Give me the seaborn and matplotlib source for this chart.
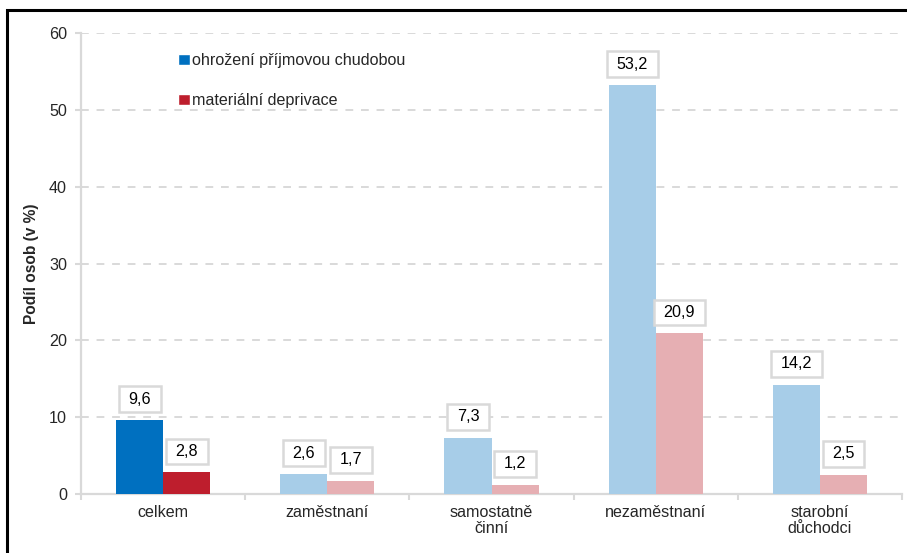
import matplotlib
matplotlib.use("Agg")
import matplotlib.pyplot as plt
import numpy as np
import pandas as pd
import seaborn as sns
from matplotlib.patches import Rectangle

# data
kategorie = ["celkem", "zaměstnaní", "samostatně\nčinní", "nezaměstnaní", "starobní\ndůchodci"]
chudoba = [9.6, 2.6, 7.3, 53.2, 14.2]
deprivace = [2.8, 1.7, 1.2, 20.9, 2.5]
serie = ["ohrožení příjmovou chudobou", "materiální deprivace"]

df = pd.DataFrame({
    "kategorie": kategorie * 2,
    "ukazatel": [serie[0]] * len(kategorie) + [serie[1]] * len(kategorie),
    "hodnota": chudoba + deprivace,
})

sns.set_theme(style="white")
plt.rcParams["font.family"] = ["Liberation Sans", "DejaVu Sans"]
fs = 11.6
plt.rcParams["font.size"] = fs

tmave = ["#0070C0", "#BE1E2D"]
svetle = ["#A7CDE8", "#E6AFB3"]
seda = "#D9D9D9"

fig = plt.figure(figsize=(9.07, 5.53), dpi=100)
ax = fig.add_axes([81 / 907, 1 - 494 / 553, (902 - 81) / 907, (494 - 33) / 553])

sns.barplot(data=df, x="kategorie", y="hodnota", hue="ukazatel", order=kategorie,
            hue_order=serie, palette=tmave, width=0.573, saturation=1, ax=ax,
            errorbar=None, zorder=3)

# only the first group keeps the dark colours
for j, cont in enumerate(ax.containers):
    for i, bar in enumerate(cont):
        if i > 0:
            bar.set_facecolor(svetle[j])
        bar.set_edgecolor("none")
        h = bar.get_height()
        ax.annotate(f"{h:.1f}".replace(".", ","),
                    (bar.get_x() + bar.get_width() / 2, h),
                    xytext=(0, 21), textcoords="offset pixels",
                    ha="center", va="center", fontsize=fs, color="black",
                    bbox=dict(boxstyle="square,pad=0.6", fc="white", ec=seda,
                              lw=1.8, mutation_aspect=0.55),
                    zorder=5)

ax.set_ylim(0, 60)
ax.set_xlim(-0.5, len(kategorie) - 0.5)
ax.set_yticks(np.arange(0, 61, 10))
ax.yaxis.grid(True, linestyle=(0, (4, 4)), color=seda, lw=1.4, zorder=0)
ax.set_axisbelow(True)

# boundary ticks on the x axis, labels centred between them
ax.set_xticks(np.arange(-0.5, len(kategorie), 1))
ax.set_xticklabels([""] * (len(kategorie) + 1))
ax.set_xticks(np.arange(len(kategorie)), minor=True)
ax.set_xticklabels(kategorie, minor=True, fontsize=fs, linespacing=1.1)
ax.tick_params(axis="x", which="major", length=4, width=1.5, color=seda, direction="out")
ax.tick_params(axis="x", which="minor", length=0, pad=8)
ax.tick_params(axis="y", length=4, width=1.5, color=seda, pad=6, labelsize=fs)
ax.xaxis.set_ticks_position("bottom")
ax.yaxis.set_ticks_position("left")

for s in ["top", "right"]:
    ax.spines[s].set_visible(False)
for s in ["left", "bottom"]:
    ax.spines[s].set_color(seda)
    ax.spines[s].set_linewidth(1.6)

ax.set_xlabel("")
ax.set_ylabel("Podíl osob (v %)", fontsize=fs - 0.4, fontweight="bold", labelpad=7)

ax.legend(loc="upper left", bbox_to_anchor=(172 / 907, 1 - 47 / 553),
          bbox_transform=fig.transFigure, frameon=False, fontsize=fs,
          handlelength=0.7, handleheight=0.7, handletextpad=0.15,
          labelspacing=1.55, borderaxespad=0)

# outer frame of the picture
fig.patches.append(Rectangle((6.5 / 907, -0.05), 1.1, 1 - 10 / 553 + 0.05,
                             transform=fig.transFigure, fill=False,
                             ec="black", lw=2.2, zorder=10))

fig.savefig("out.png", dpi=100)
